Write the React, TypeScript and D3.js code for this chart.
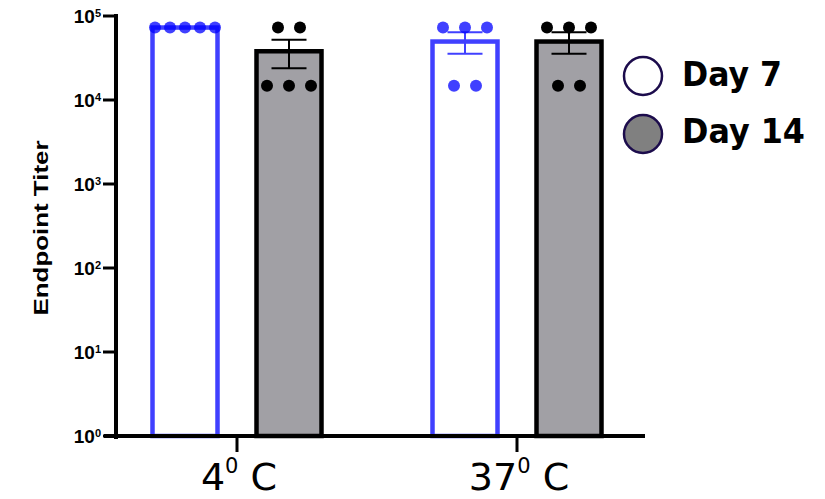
import React from "react";
import * as d3 from "d3";

const temps = ["4", "37"];
const seriesNames = ["Day 7", "Day 14"];
const day7 = [
  [72900, 72900, 72900, 72900, 72900],
  [72900, 72900, 72900, 14800, 14800],
];
const day14 = [
  [72900, 72900, 14800, 14800, 14800],
  [72900, 72900, 72900, 14800, 14800],
];
const yTickExps = [0, 1, 2, 3, 4, 5];

const W = 825;
const H = 499;
const BLUE = "#4040ff";
const GRAY = "#a1a0a5";

function meanSem(v: number[]) {
  const m = d3.mean(v) as number;
  const sd = v.length > 1 ? (d3.deviation(v) as number) : 0;
  return { m, sem: sd / Math.sqrt(v.length) };
}

export default function App() {
  const y = d3.scaleLog().domain([1, 1e5]).range([436, 16]);
  const x = d3.scalePoint<string>().domain(temps).range([237, 517]);
  const xs = d3.scalePoint<string>().domain(seriesNames).range([-52, 52]);
  const barW = 65;
  const series = [
    { name: "Day 7", data: day7, stroke: BLUE, fill: "white", dot: "#0000ff", dotOp: 0.75, err: BLUE },
    { name: "Day 14", data: day14, stroke: "#000", fill: GRAY, dot: "#000", dotOp: 1, err: "#000" },
  ];

  return (
    <svg width={W} height={H} style={{ position: "absolute", left: 0, top: 0 }}>
      <rect width={W} height={H} fill="white" />
      {/* bars */}
      {series.map((s) =>
        temps.map((t, i) => {
          const cx = (x(t) as number) + (xs(s.name) as number);
          const { m } = meanSem(s.data[i]);
          return (
            <rect
              key={s.name + t}
              x={cx - barW / 2}
              y={y(m)}
              width={barW}
              height={y(1) - y(m)}
              fill={s.fill}
              stroke={s.stroke}
              strokeWidth={4.5}
            />
          );
        })
      )}
      {/* error bars */}
      {series.map((s) =>
        temps.map((t, i) => {
          const cx = (x(t) as number) + (xs(s.name) as number);
          const { m, sem } = meanSem(s.data[i]);
          const hi = y(m + sem);
          const lo = y(Math.max(m - sem, 1));
          return (
            <g key={"e" + s.name + t} stroke={s.err} strokeWidth={2}>
              <line x1={cx} x2={cx} y1={hi} y2={lo} />
              <line x1={cx - 17.5} x2={cx + 17.5} y1={hi} y2={hi} />
              <line x1={cx - 17.5} x2={cx + 17.5} y1={lo} y2={lo} />
            </g>
          );
        })
      )}
      {/* dots */}
      {series.map((s) =>
        temps.map((t, i) => {
          const cx = (x(t) as number) + (xs(s.name) as number);
          const groups = d3.groups(s.data[i], (v) => v);
          return groups.map(([val, arr]) => {
            const n = arr.length;
            const sp = n > 1 ? Math.min(22, 60 / (n - 1)) : 0;
            return arr.map((_, k) => (
              <circle
                key={s.name + t + val + k}
                cx={cx + (k - (n - 1) / 2) * sp}
                cy={y(val)}
                r={6}
                fill={s.dot}
                fillOpacity={s.dotOp}
              />
            ));
          });
        })
      )}
      {/* axes */}
      <line x1={116} x2={116} y1={14} y2={439} stroke="#000" strokeWidth={4} />
      <line x1={104} x2={645} y1={436} y2={436} stroke="#000" strokeWidth={4} />
      {yTickExps.map((e) => (
        <g key={"yt" + e}>
          <line x1={103} x2={116} y1={y(Math.pow(10, e))} y2={y(Math.pow(10, e))} stroke="#000" strokeWidth={3} />
          <text
            x={101}
            y={y(Math.pow(10, e)) + 7}
            textAnchor="end"
            fontFamily="Liberation Sans, Arial, sans-serif"
            fontWeight="bold"
            fontSize={19}
          >
            10
            <tspan fontSize={11} dy={-6}>{e}</tspan>
          </text>
        </g>
      ))}
      {temps.map((t) => (
        <g key={"xt" + t}>
          <line x1={x(t)} x2={x(t)} y1={436} y2={452} stroke="#000" strokeWidth={3} />
          <text
            x={(x(t) as number) + 2}
            y={490}
            textAnchor="middle"
            fontFamily="DejaVu Sans, sans-serif"
            fontSize={38}
          >
            {t}
            <tspan fontSize={21} dy={-17}>0</tspan>
            <tspan dy={17}> C</tspan>
          </text>
        </g>
      ))}
      <text
        transform="translate(48,228) rotate(-90)"
        textAnchor="middle"
        fontFamily="Liberation Sans, Arial, sans-serif"
        fontWeight="bold"
        fontSize={20}
        textLength={175}
        lengthAdjust="spacingAndGlyphs"
      >
        Endpoint Titer
      </text>
      {/* legend */}
      {seriesNames.map((n, i) => (
        <g key={"lg" + n}>
          <circle cx={643} cy={76 + i * 58} r={19} fill={i === 0 ? "white" : "#808080"} stroke="#1c0c4c" strokeWidth={2.5} />
          <text
            x={682}
            y={86 + i * 57}
            fontFamily="DejaVu Sans, sans-serif"
            fontWeight="bold"
            fontSize={33}
            textLength={i === 0 ? 100 : 123}
            lengthAdjust="spacingAndGlyphs"
          >
            {n}
          </text>
        </g>
      ))}
    </svg>
  );
}
